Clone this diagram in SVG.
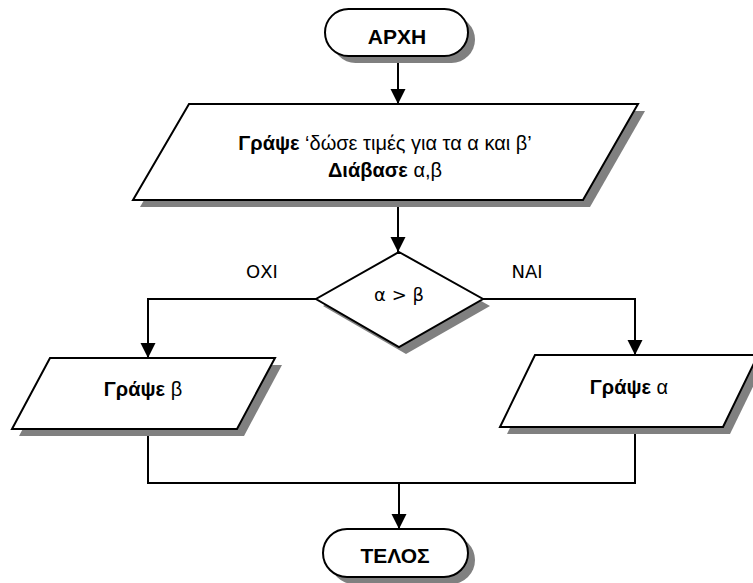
<svg xmlns="http://www.w3.org/2000/svg" width="753" height="583" viewBox="0 0 753 583">
  <style>
    .shape { fill: #ffffff; stroke: #000000; stroke-width: 2; stroke-linejoin: miter; }
    .shade { fill: #808080; stroke: none; }
    .wire { fill: none; stroke: #000000; stroke-width: 2; }
    text { font-family: "Liberation Sans", Arial, sans-serif; fill: #000000; text-anchor: middle; }
    .term { font-size: 21px; font-weight: bold; }
    .body { font-size: 20px; }
    .lbl { font-family: "DejaVu Sans", Verdana, sans-serif; font-size: 18px; }
    .b { font-weight: bold; }
  </style>
  <defs>
    <marker id="arrow" markerUnits="userSpaceOnUse" markerWidth="16" markerHeight="16" refX="15" refY="7.5" orient="auto">
      <path d="M0,0 L15,7.5 L0,15 Z" fill="#000000"/>
    </marker>
  </defs>

  <!-- connectors -->
  <g id="connectors">
    <path class="wire" d="M398,57 L398,104" marker-end="url(#arrow)"/>
    <path class="wire" d="M398,200 L398,252" marker-end="url(#arrow)"/>
    <path class="wire" d="M316,299 L148,299 L148,358" marker-end="url(#arrow)"/>
    <path class="wire" d="M483,299 L635,299 L635,355" marker-end="url(#arrow)"/>
    <path class="wire" d="M148,429 L148,483 L635,483 L635,427"/>
    <path class="wire" d="M399,483 L399,529" marker-end="url(#arrow)"/>
    <text class="lbl" x="262" y="278">ΟΧΙ</text>
    <text class="lbl" x="527" y="278">ΝΑΙ</text>
  </g>

  <!-- start -->
  <g id="start">
    <rect class="shade" x="332" y="16" width="143" height="47" rx="23.5"/>
    <rect class="shape" x="325" y="9" width="143" height="47" rx="23.5"/>
    <text class="term" x="397" y="44">ΑΡΧΗ</text>
  </g>

  <!-- input -->
  <g id="input">
    <polygon class="shade" points="196,111 645,111 590,207 140,207"/>
    <polygon class="shape" points="189,104 638,104 583,200 133,200"/>
    <text class="body" x="385" y="150"><tspan class="b">Γράψε</tspan> ‘δώσε τιμές για τα α και β’</text>
    <text class="body" x="385" y="177"><tspan class="b">Διάβασε</tspan> α,β</text>
  </g>

  <!-- decision -->
  <g id="decision">
    <polygon class="shade" points="406,259 490,306 406,354 323,306"/>
    <polygon class="shape" points="399,252 483,299 399,347 316,299"/>
    <text class="lbl" x="399" y="301">α &gt; β</text>
  </g>

  <!-- print b -->
  <g id="print-b">
    <polygon class="shade" points="57,365 282,365 244,436 19,436"/>
    <polygon class="shape" points="50,358 275,358 237,429 12,429"/>
    <text class="body" x="143" y="396"><tspan class="b">Γράψε</tspan> β</text>
  </g>

  <!-- print a -->
  <g id="print-a">
    <polygon class="shade" points="542,362 765,362 730,434 507,434"/>
    <polygon class="shape" points="535,355 758,355 723,427 500,427"/>
    <text class="body" x="629" y="394"><tspan class="b">Γράψε</tspan> α</text>
  </g>

  <!-- end -->
  <g id="end">
    <rect class="shade" x="330" y="536" width="145" height="48" rx="24"/>
    <rect class="shape" x="323" y="529" width="145" height="48" rx="24"/>
    <text class="term" x="395" y="563">ΤΕΛΟΣ</text>
  </g>
</svg>
